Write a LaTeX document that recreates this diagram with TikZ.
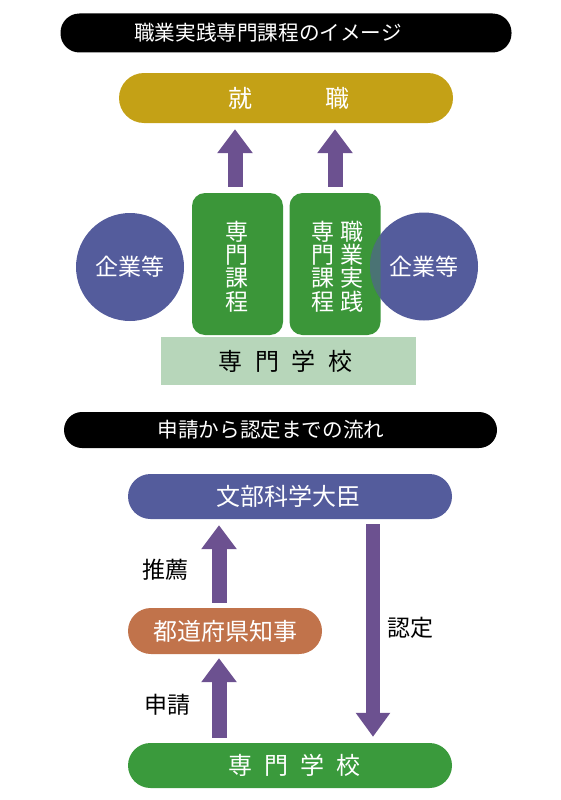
\documentclass[tikz,border=0pt]{standalone}
\usepackage{fontspec}
\setmainfont{Noto Sans CJK JP}
\usetikzlibrary{arrows.meta}
\definecolor{goldc}{HTML}{C4A116}
\definecolor{arrowc}{HTML}{6C5190}
\definecolor{boxgreen}{HTML}{3B9639}
\definecolor{circblue}{HTML}{545C9C}
\definecolor{lightgreen}{HTML}{B7D6BA}
\definecolor{orangec}{HTML}{C1734B}
\definecolor{schoolgreen}{HTML}{3A9A3C}
\newcommand{\fs}[1]{\fontsize{#1}{#1}\selectfont}
\tikzset{
  hdr/.style={fill=black, inner sep=0pt},
  hdrtext/.style={text=white, inner sep=0pt, font=\fs{20.6}},
  pill/.style={inner sep=0pt, text=white, font=\fs{24}},
  greenbox/.style={fill=boxgreen, rounded corners=13pt, inner sep=0pt, minimum width=91pt, minimum height=142pt},
  vtext/.style={text=white, inner sep=0pt, align=center, font=\fontsize{23}{23.4}\selectfont},
  circ/.style={circle, fill=circblue, minimum size=108pt, inner sep=0pt, text=white, font=\fs{23}},
  blockarrow/.style={draw=arrowc, line width=15pt, -{Triangle[width=34pt,length=24pt]}},
  lbl/.style={inner sep=0pt, font=\fs{23}},
}
\begin{document}
\begin{tikzpicture}[x=1pt,y=-1pt]
\useasboundingbox (0,0) rectangle (560,800);
% header 1
\node[hdr, rounded corners=19pt, minimum width=451pt, minimum height=39pt] (h1) at (286,33) {};
\node[hdrtext] (h1t) at (268,33) {職業実践専門課程のイメージ};
% job bar
\node[pill, fill=goldc, rounded corners=25pt, minimum width=334pt, minimum height=50pt] (job) at (286,98) {};
\node[pill] (jobt) at (288.5,98) {就\hspace{73pt}職};
% green boxes
\node[greenbox] (g1) at (237.5,264) {};
\node[greenbox] (g2) at (335,264) {};
\node[vtext] (g1t) at (237,266.5) {専\\門\\課\\程};
\node[vtext] (g2a) at (323,266.5) {専\\門\\課\\程};
\node[vtext] (g2b) at (352,266.5) {職\\業\\実\\践};
% circles
\node[circ] (c1) at (130,267) {企業等};
\node[circ] (c2) at (424,266.5) {};
\begin{scope}
  \clip (424,266.5) circle (54pt);
  \fill[boxgreen, fill opacity=0.4, rounded corners=13pt] (g2.south west) rectangle (g2.north east);
\end{scope}
\node[inner sep=0pt, text=white, font=\fs{23}] (c2t) at (c2.center) {企業等};
% arrows up to job
\draw[blockarrow, shorten <=6pt, shorten >=6pt] ([xshift=-2.5pt]g1.north) -- ([xshift=-2.5pt]g1.north |- job.south);
\draw[blockarrow, shorten <=6pt, shorten >=6pt] (g2.north) -- (g2.north |- job.south);
% school rect
\node[fill=lightgreen, minimum width=255pt, minimum height=48pt, inner sep=0pt] (sc1) at (288.5,361) {};
\node[inner sep=0pt, font=\fs{24}] (sc1t) at (285.5,361) {専\hspace{12.5pt}門\hspace{12.5pt}学\hspace{12.5pt}校};
% header 2
\node[hdr, rounded corners=18pt, minimum width=433pt, minimum height=36pt] (h2) at (280.5,430) {};
\node[hdrtext] (h2t) at (271,430) {申請から認定までの流れ};
% minister
\node[pill, fill=circblue, rounded corners=22.5pt, minimum width=324pt, minimum height=45pt] (mx) at (290,496.5) {};
\node[pill] (mxt) at (288.5,496.5) {文部科学大臣};
% governor
\node[pill, fill=orangec, rounded corners=23pt, minimum width=194pt, minimum height=46pt] (gov) at (225,631) {};
\node[pill] (govt) at (225,631) {都道府県知事};
% school 2
\node[pill, fill=schoolgreen, rounded corners=22.5pt, minimum width=324pt, minimum height=45pt] (sc2) at (290,765.5) {};
\node[pill] (sc2t) at (294.5,765.5) {専\hspace{12pt}門\hspace{12pt}学\hspace{12pt}校};
% arrows
\draw[blockarrow, shorten <=5pt, shorten >=6pt] ([xshift=-6pt]gov.north) -- ([xshift=-6pt]gov.north |- mx.south);
\draw[blockarrow, shorten <=5pt, shorten >=4pt] ([xshift=-71pt]sc2.north) -- ([xshift=-71pt]sc2.north |- gov.south);
\draw[blockarrow, line width=14pt, -{Triangle[width=33pt,length=24pt]}, shorten <=5pt, shorten >=6pt] ([xshift=83pt]mx.south) -- ([xshift=83pt]sc2.north);
% labels
\node[lbl] (l1) at (165,570) {推薦};
\node[lbl] (l2) at (167,705) {申請};
\node[lbl] (l3) at (410,628) {認定};
\end{tikzpicture}
\end{document}
